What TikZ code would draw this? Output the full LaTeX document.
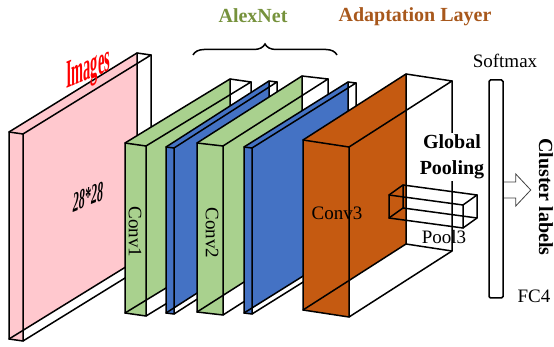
\documentclass[tikz,border=0pt]{standalone}
\usepackage{fontspec}
\setmainfont{Liberation Serif}
\usetikzlibrary{calc,decorations.pathreplacing}
\definecolor{pinkc}{RGB}{255,200,206}
\definecolor{greenc}{RGB}{169,209,142}
\definecolor{bluec}{RGB}{68,114,196}
\definecolor{orangec}{RGB}{197,90,17}
\definecolor{olivec}{RGB}{118,146,60}
\definecolor{brownc}{RGB}{168,88,28}
\tikzset{
  edge/.style={line width=1.5pt, line join=round, line cap=round},
  lbl/.style={font=\fontsize{19}{19}\selectfont, inner sep=1pt},
  blbl/.style={font=\fontsize{20}{26}\selectfont\bfseries, inner sep=1pt},
}
\newcommand\slabbox[9]{%
  \coordinate (#1flt) at (#2,#3);
  \coordinate (#1frt) at ($(#1flt)+(#4,#5)$);
  \coordinate (#1flb) at ($(#1flt)+(0,#6)$);
  \coordinate (#1frb) at ($(#1frt)+(0,#6)$);
  \coordinate (#1blt) at ($(#1flt)+(#7,#8)$);
  \coordinate (#1brt) at ($(#1frt)+(#7,#8)$);
  \coordinate (#1blb) at ($(#1flb)+(#7,#8)$);
  \coordinate (#1brb) at ($(#1frb)+(#7,#8)$);
  \fill[#9] (#1flt)--(#1blt)--(#1blb)--(#1flb)--cycle;
  \fill[#9] (#1flt)--(#1frt)--(#1frb)--(#1flb)--cycle;
  \draw[edge] (#1flt)--(#1frt)--(#1frb)--(#1flb)--cycle;
  \draw[edge] (#1flt)--(#1blt)--(#1brt)--(#1frt);
  \draw[edge] (#1blt)--(#1blb)--(#1flb);
  \draw[edge] (#1brt)--(#1brb)--(#1frb);
  \draw[edge] (#1blb)--(#1brb);
}
\begin{document}
\begin{tikzpicture}[x=1pt,y=-1pt]
\useasboundingbox (0,0) rectangle (554,347);
% slabs
\slabbox{img}{9}{132}{14}{2}{207}{128}{-79}{pinkc}
\slabbox{cA}{125}{143}{21}{3}{170}{105}{-64}{greenc}
\slabbox{bA}{166}{147}{8}{1}{166}{103}{-66}{bluec}
\slabbox{cB}{197}{143}{26}{3}{169}{105}{-67}{greenc}
\slabbox{bB}{244}{147}{8}{1}{166}{104}{-65}{bluec}
\slabbox{cC}{303}{140}{46}{7}{170}{103}{-66}{orangec}
% labels on slabs
\node[red, inner sep=0pt, font=\fontsize{40}{40}\selectfont\bfseries, yslant=0.42, xscale=0.36] (images) at (88,71) {Images};
\node[inner sep=0pt, font=\fontsize{28}{28}\selectfont\bfseries\itshape, yslant=0.4, xscale=0.43] (size) at (88,197) {28*28};
\node[lbl, rotate=-90] (conv1) at (135,232) {Conv1};
\node[lbl, rotate=-90] (conv2) at (212,233) {Conv2};
\node[lbl] (conv3) at (337,213) {Conv3};
% global pooling
\node[blbl, fill=white, align=center, inner sep=2pt] (gp) at (452,157) {Global\\Pooling};
% pool3 box (wireframe)
\slabbox{pl}{389}{195}{74}{10}{23}{14}{-10}{white,opacity=0}
\node[lbl] (pool3) at (444,237) {Pool3};
% titles
\node[blbl, text=olivec] (alex) at (253,16) {AlexNet};
\node[blbl, text=brownc] (adapt) at (415,17) {Adaptation Layer};
\draw[line width=1.5pt, decorate, decoration={brace, amplitude=11pt}] (193,55) coordinate (bl) -- (337,55) coordinate (br);
% softmax / fc4
\node[draw, line width=1.5pt, rounded corners=1.5pt, minimum width=14pt, minimum height=218pt, inner sep=0pt] (fc) at (496,189) {};
\node[lbl] (soft) at (505,61) {Softmax};
\node[lbl] (fc4) at (534,296) {FC4};
\node[blbl, rotate=-90] (cl) at (546,197) {Cluster labels};
% hollow arrow
\draw[line width=0.8pt, draw=black!75, line join=miter]
  ($(fc.east)+(0,-7)$) -- ++(12,0) -- ++(0,-8) -- ++(15,16) -- ++(-15,16) -- ++(0,-8) -- ($(fc.east)+(0,9)$);
\end{tikzpicture}
\end{document}
